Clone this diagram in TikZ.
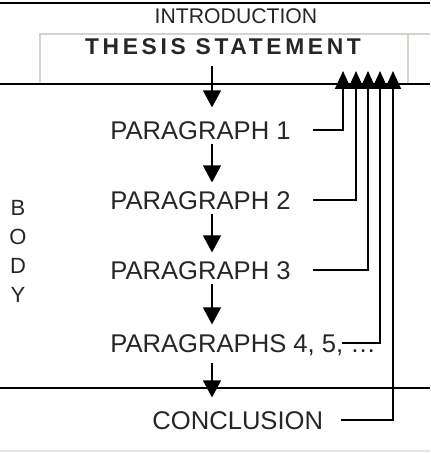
\documentclass[tikz,border=0pt]{standalone}
\usepackage{fontspec}
\setmainfont{Liberation Sans}
\usetikzlibrary{arrows.meta}
\definecolor{boxgray}{RGB}{214,210,204}

\begin{document}
\begin{tikzpicture}[x=0.5pt,y=-0.5pt,
	txt/.style={inner sep=0pt, text height=9.2pt, text depth=0pt, text=black!85, font=\fontsize{12.8}{15}\selectfont},
	flow/.style={-{Triangle[width=9pt,length=8.5pt]}, line width=0.7pt, shorten <=2pt, shorten >=4pt},
	back/.style={-{Triangle[width=8pt,length=9pt]}, line width=0.8pt, shorten <=11pt},
	rule/.style={line width=1pt}]
	\useasboundingbox (0,0) rectangle (430,453);

	\draw[rule] (0,3) -- (430,3);
	\draw[boxgray, line width=0.8pt] (40,84) -- (40,34) -- (430,34);
	\draw[boxgray, line width=0.8pt] (408,34) -- (408,84);
	\draw[rule] (0,84) -- (430,84);
	\draw[rule] (0,388) -- (430,388);
	\draw[black!10, line width=0.6pt] (0,451) -- (430,451);

	\node[txt, font=\fontsize{10.6}{13}\selectfont, text height=7.6pt] (intro) at (236,16) {INTRODUCTION};
	\node[txt, text height=8.2pt, font=\fontsize{11.4}{13}\selectfont\bfseries\addfontfeature{LetterSpace=16}] (thesis) at (223,46) {THESIS STATEMENT};

	\node[txt, anchor=west] (p1) at (110,130) {PARAGRAPH 1};
	\node[txt, anchor=west] (p2) at (110,200) {PARAGRAPH 2};
	\node[txt, anchor=west] (p3) at (110,270) {PARAGRAPH 3};
	\node[txt, anchor=west] (p4) at (110,343) {PARAGRAPHS 4, 5, \dots};
	\node[txt, anchor=west] (concl) at (152,420) {CONCLUSION};

	\node[txt, text height=, align=center, font=\fontsize{11}{14.5}\selectfont] (body) at (18,251) {B\\O\\D\\Y};

	\coordinate (spine) at (212,0);
	\coordinate (t1) at (343,71);
	\coordinate (t2) at (356,71);
	\coordinate (t3) at (368,71);
	\coordinate (t4) at (380,71);
	\coordinate (t5) at (393,71);

	\draw[flow, shorten <=5.5pt, shorten >=6.5pt] (thesis.south -| spine) -- (p1.north -| spine);
	\draw[flow] (p1.south -| spine) -- (p2.north -| spine);
	\draw[flow] (p2.south -| spine) -- (p3.north -| spine);
	\draw[flow, shorten >=4.5pt] (p3.south -| spine) -- (p4.north -| spine);
	\draw[flow, shorten <=5pt, shorten >=6.5pt] (p4.south -| spine) -- (concl.north -| spine);

	\draw[back] (p1.east) -| (t1);
	\draw[back] (p2.east) -| (t2);
	\draw[back] (p3.east) -| (t3);
	\draw[back, shorten <=0pt] ([xshift=-17pt]p4.east) -| (t4);
	\draw[back, shorten <=9pt] (concl.east) -| (t5);
\end{tikzpicture}
\end{document}
